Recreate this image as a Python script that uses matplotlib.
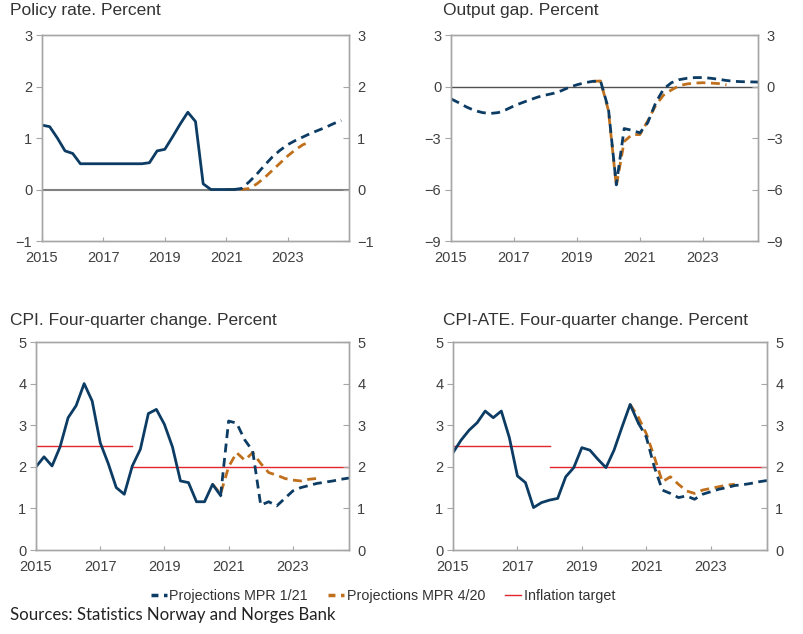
import numpy as np
import matplotlib.pyplot as plt
from matplotlib.lines import Line2D

plt.rcParams['font.family'] = ['Liberation Sans', 'DejaVu Sans']

BLUE = '#0c3c64'
ORANGE = '#c0701c'
RED = '#e3262d'
SPINE = '#a6a6a6'
TXT = '#404040'


def quarters(start, n):
    return start + 0.25 * np.arange(n)


# policy rate
pr_hist = [1.25, 1.22, 1.0, 0.75, 0.70, 0.50, 0.50, 0.50, 0.50, 0.50, 0.50, 0.50,
           0.50, 0.50, 0.52, 0.75, 0.78, 1.02, 1.27, 1.50, 1.32, 0.11, 0.0, 0.0, 0.0, 0.0]
pr_mpr121 = [0.0, 0.02, 0.15, 0.30, 0.47, 0.63, 0.76, 0.87, 0.95, 1.02, 1.09, 1.15,
             1.21, 1.28, 1.34]
pr_mpr420 = [0.0, 0.0, 0.0, 0.02, 0.11, 0.23, 0.37, 0.51, 0.65, 0.77, 0.87, 0.93]

# output gap
og_mpr121 = [-0.72, -0.95, -1.2, -1.4, -1.52, -1.57, -1.52, -1.35, -1.13, -0.95, -0.78,
             -0.62, -0.50, -0.40, -0.25, -0.05, 0.10, 0.22, 0.30, 0.32, -1.3, -5.73,
             -2.45, -2.55, -2.70, -2.10, -0.95, -0.15, 0.22, 0.40, 0.48, 0.52, 0.52,
             0.48, 0.42, 0.35, 0.30, 0.28, 0.27, 0.26]
og_mpr420 = [0.30, 0.32, -1.4, -5.8, -3.2, -2.8, -2.8, -2.0, -1.1, -0.5, -0.2, 0.05,
             0.15, 0.20, 0.22, 0.20, 0.17, 0.10]

# CPI
cpi_hist = [2.0, 2.24, 2.02, 2.48, 3.18, 3.47, 4.0, 3.58, 2.58, 2.08, 1.5, 1.34, 2.02,
            2.42, 3.28, 3.38, 3.02, 2.48, 1.66, 1.62, 1.16, 1.16, 1.58, 1.31]
cpi_mpr121 = [1.31, 3.1, 3.05, 2.65, 2.38, 1.08, 1.16, 1.06, 1.24, 1.42, 1.50, 1.55,
              1.60, 1.63, 1.66, 1.70, 1.73]
cpi_mpr420 = [1.58, 1.35, 2.0, 2.34, 2.16, 2.34, 2.08, 1.86, 1.80, 1.72, 1.68, 1.66,
              1.70, 1.72]

# CPI-ATE
ate_hist = [2.34, 2.64, 2.88, 3.06, 3.34, 3.18, 3.34, 2.70, 1.78, 1.62, 1.02, 1.14,
            1.20, 1.24, 1.76, 1.98, 2.46, 2.40, 2.18, 1.98, 2.40, 2.96, 3.50, 3.06]
ate_mpr121 = [3.06, 2.72, 2.0, 1.44, 1.36, 1.26, 1.30, 1.22, 1.34, 1.40, 1.46, 1.50,
              1.55, 1.57, 1.60, 1.64, 1.67]
ate_mpr420 = [3.5, 3.2, 2.8, 2.24, 1.64, 1.76, 1.58, 1.42, 1.36, 1.44, 1.48, 1.52,
              1.56, 1.58]

target_years = [2015, 2018, 2018, 2025]
target_vals = [2.5, 2.5, 2.0, 2.0]

xticks = [2015, 2017, 2019, 2021, 2023]

fig = plt.figure(figsize=(8.04, 6.34), dpi=100)

W, H = 804, 634


def make_ax(l, r, t, b):
    return fig.add_axes([l / W, 1 - b / H, (r - l) / W, (b - t) / H])


ax1 = make_ax(42, 349, 35, 241)
ax2 = make_ax(451, 758, 35, 241)
ax3 = make_ax(36, 349, 342, 550)
ax4 = make_ax(453, 767, 342, 550)

DASH = (0, (3.2, 2.0))
LW = 2.0
TS = 10.5


def style(ax, ylim, yticks, xmax):
    ax.set_xlim(2015, xmax)
    ax.set_ylim(*ylim)
    ax.set_xticks(xticks)
    ax.set_yticks(yticks)
    for s in ax.spines.values():
        s.set_color(SPINE)
        s.set_linewidth(1.0)
    ax.tick_params(axis='x', direction='in', length=3, color=SPINE, labelcolor=TXT,
                   labelsize=TS, pad=7)
    ax.tick_params(axis='y', direction='out', length=4, color=SPINE, labelcolor=TXT,
                   labelsize=TS, pad=3)
    tw = ax.twinx()
    tw.set_ylim(*ylim)
    tw.set_yticks(yticks)
    for s in tw.spines.values():
        s.set_color(SPINE)
        s.set_linewidth(1.0)
    tw.tick_params(axis='y', direction='in', length=4, color=SPINE, labelcolor=TXT,
                   labelsize=TS, pad=6)
    return tw


style(ax1, (-1, 3), [-1, 0, 1, 2, 3], 2025)
style(ax2, (-9, 3), [-9, -6, -3, 0, 3], 2024.75)
style(ax3, (0, 5), [0, 1, 2, 3, 4, 5], 2024.75)
style(ax4, (0, 5), [0, 1, 2, 3, 4, 5], 2024.75)

# policy rate
ax1.axhline(0, color='#808080', lw=1.5, zorder=1)
ax1.plot(quarters(2021.0, len(pr_mpr420)), pr_mpr420, color=ORANGE, lw=LW, ls=DASH)
ax1.plot(quarters(2015.0, len(pr_hist)), pr_hist, color=BLUE, lw=LW)
ax1.plot(quarters(2021.25, len(pr_mpr121)), pr_mpr121, color=BLUE, lw=LW, ls=DASH)

# output gap
ax2.axhline(0, color='#505050', lw=1.0, zorder=1)
ax2.plot(quarters(2019.5, len(og_mpr420)), og_mpr420, color=ORANGE, lw=LW, ls=DASH)
ax2.plot(quarters(2015.0, len(og_mpr121)), og_mpr121, color=BLUE, lw=LW, ls=DASH)

# CPI
ax3.plot(target_years[:2], target_vals[:2], color=RED, lw=1.0)
ax3.plot(target_years[2:], target_vals[2:], color=RED, lw=1.0)
ax3.plot(quarters(2020.5, len(cpi_mpr420)), cpi_mpr420, color=ORANGE, lw=LW, ls=DASH)
ax3.plot(quarters(2015.0, len(cpi_hist)), cpi_hist, color=BLUE, lw=LW)
ax3.plot(quarters(2020.75, len(cpi_mpr121)), cpi_mpr121, color=BLUE, lw=LW, ls=DASH)

# CPI-ATE
ax4.plot(target_years[:2], target_vals[:2], color=RED, lw=1.0)
ax4.plot(target_years[2:], target_vals[2:], color=RED, lw=1.0)
ax4.plot(quarters(2020.5, len(ate_mpr420)), ate_mpr420, color=ORANGE, lw=LW, ls=DASH)
ax4.plot(quarters(2015.0, len(ate_hist)), ate_hist, color=BLUE, lw=LW)
ax4.plot(quarters(2020.75, len(ate_mpr121)), ate_mpr121, color=BLUE, lw=LW, ls=DASH)

title_kw = dict(fontsize=12.5, color='#333333', va='center', ha='left')
fig.text(10 / W, 1 - 10 / H, 'Policy rate. Percent', **title_kw)
fig.text(443 / W, 1 - 10 / H, 'Output gap. Percent', **title_kw)
fig.text(10 / W, 1 - 321 / H, 'CPI. Four-quarter change. Percent', **title_kw)
fig.text(443 / W, 1 - 321 / H, 'CPI-ATE. Four-quarter change. Percent', **title_kw)

handles = [
    Line2D([], [], color=BLUE, lw=2.5, ls=(0, (2.0, 1.6))),
    Line2D([], [], color=ORANGE, lw=2.5, ls=(0, (2.0, 1.6))),
    Line2D([], [], color=RED, lw=1.0),
]
labels = ['Projections MPR 1/21', 'Projections MPR 4/20', 'Inflation target']
fig.legend(handles, labels, loc='center', bbox_to_anchor=(383 / W, 1 - 596 / H),
           ncol=3, frameon=False, handlelength=1.1, handletextpad=0.2,
           columnspacing=1.4, prop={'family': 'Liberation Sans', 'size': 10.3},
           labelcolor='#333333')

fig.text(10 / W, 1 - 615 / H, 'Sources: Statistics Norway and Norges Bank',
         fontsize=12.1, family='Lato', color='#222222', va='center', ha='left')

fig.savefig('out.png', dpi=100)
